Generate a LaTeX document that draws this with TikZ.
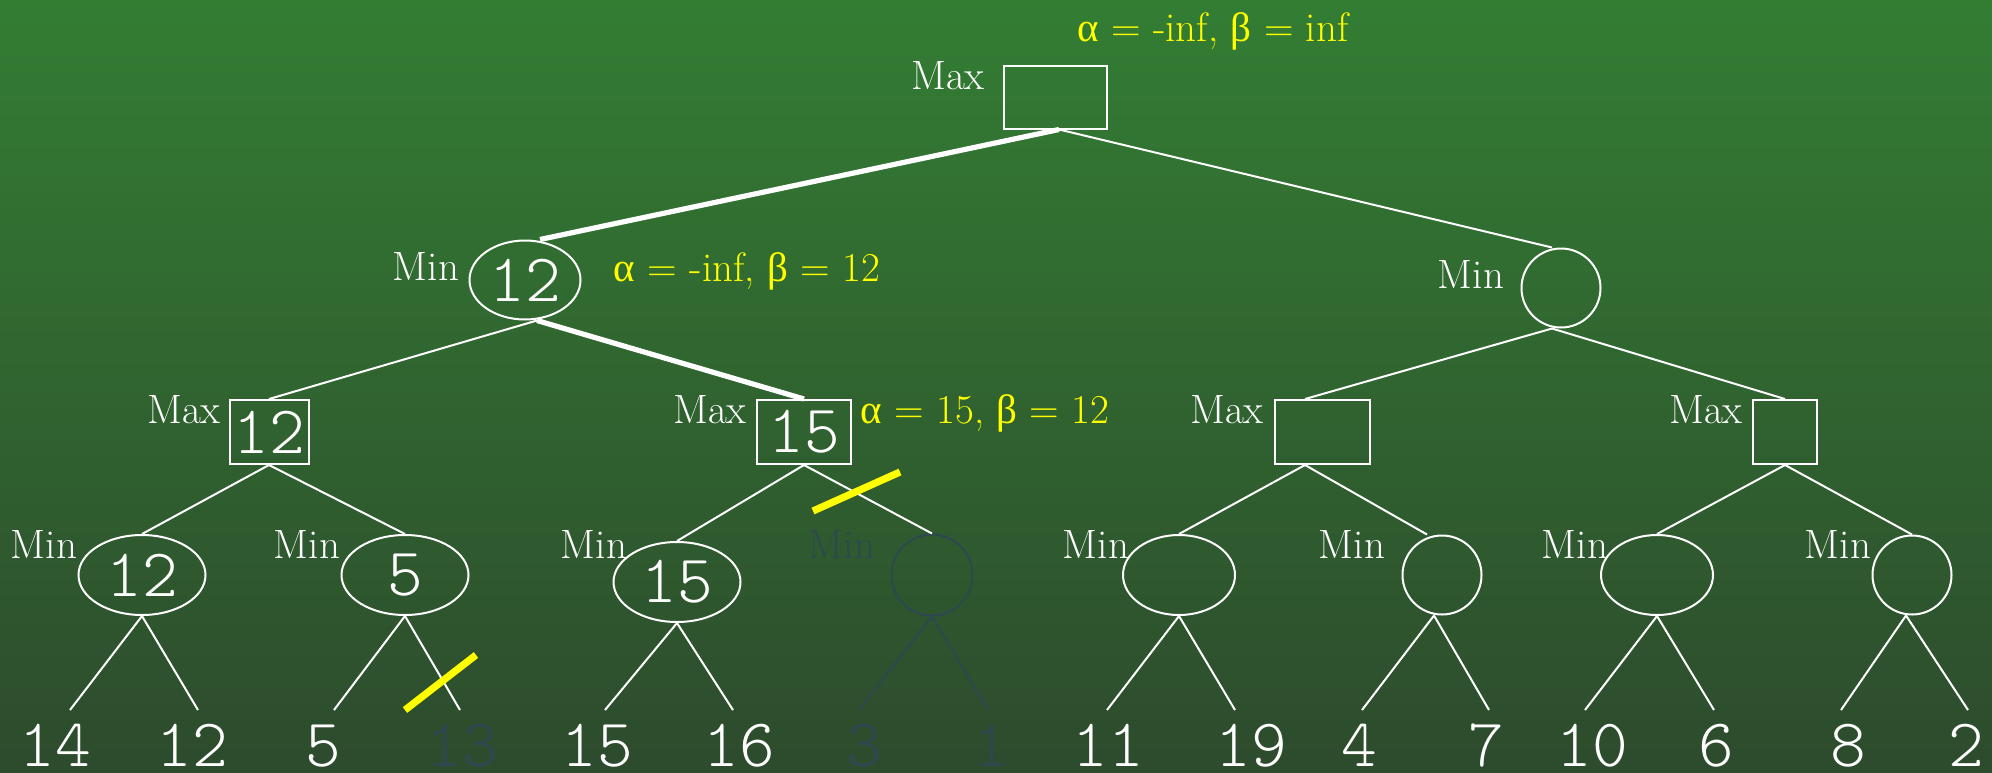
\documentclass[tikz,border=0pt]{standalone}
\usepackage{fontspec}
\newfontfamily\gk{Liberation Serif}
\newfontfamily\lmlight{lmmonolt10-regular.otf}
\usetikzlibrary{shapes.geometric}
\definecolor{bgtop}{RGB}{51,125,51}
\definecolor{bgbot}{RGB}{45,75,45}
\definecolor{dim}{RGB}{45,72,80}
\definecolor{hl}{RGB}{255,255,0}
\tikzset{
  numfont/.style={font=\fontsize{34}{34}\selectfont\lmlight},
  maxbox/.style={draw=white, line width=1pt, rectangle, inner sep=0pt, text=white, numfont},
  minell/.style={draw=white, line width=1pt, ellipse, inner sep=0pt, text=white, numfont},
  lbl/.style={text=white, font=\fontsize{20.5}{20.5}\selectfont, anchor=base, inner sep=0pt},
  ab/.style={text=hl, font=\fontsize{20.5}{20.5}\selectfont, anchor=base, inner sep=0pt},
  leaf/.style={text=white, numfont, anchor=base, inner sep=0pt},
  edgeline/.style={draw=white, line width=1pt},
  boldline/.style={draw=white, line width=2.6pt},
  cutline/.style={draw=hl, line width=3.6pt},
}
\begin{document}
\begin{tikzpicture}[x=0.5pt,y=-0.5pt]
\shade[top color=bgtop, bottom color=bgbot] (0,0) rectangle (1992,772);
\useasboundingbox (0,0) rectangle (1992,772);

% tree nodes
\node[maxbox, minimum width=51.5pt, minimum height=31.5pt] (root) at (1055,97) {};
\node[minell, minimum width=55.5pt, minimum height=39.5pt] (L) at (525,280) {12};
\node[minell, minimum width=39.5pt, minimum height=39.5pt] (R) at (1561,288) {};
\node[maxbox, minimum width=39.5pt, minimum height=32pt] (A) at (269,432) {12};
\node[maxbox, minimum width=47pt, minimum height=32pt] (B) at (804,432) {15};
\node[maxbox, minimum width=47.5pt, minimum height=32pt] (C) at (1322,432) {};
\node[maxbox, minimum width=32pt, minimum height=32pt] (D) at (1785,432) {};
\node[minell, minimum width=63.5pt, minimum height=40pt] (A1) at (142,575) {12};
\node[minell, minimum width=63.5pt, minimum height=40pt] (A2) at (405,575) {5};
\node[minell, minimum width=63.5pt, minimum height=40pt] (B1) at (677,582) {15};
\node[minell, draw=dim, minimum width=40.5pt, minimum height=40.5pt] (B2) at (932,575) {};
\node[minell, minimum width=56pt, minimum height=40pt] (C1) at (1179,575) {};
\node[minell, minimum width=39.5pt, minimum height=39.5pt] (C2) at (1442,575) {};
\node[minell, minimum width=56pt, minimum height=40pt] (D1) at (1657,575) {};
\node[minell, minimum width=39.5pt, minimum height=39.5pt] (D2) at (1912,575) {};

% labels
\node[lbl] (lroot) at (948,89) {Max};
\node[ab] (aroot) at (1213,41) {{\gk α} = -inf, {\gk β} = inf};
\node[lbl] (lL) at (426,280) {Min};
\node[ab] (aL) at (747,281) {{\gk α} = -inf, {\gk β} = 12};
\node[lbl] (lR) at (1471,288) {Min};
\node[lbl] (lA) at (184,423) {Max};
\node[lbl] (lB) at (710,423) {Max};
\node[ab] (aB) at (985,423) {{\gk α} = 15, {\gk β} = 12};
\node[lbl] (lC) at (1227,423) {Max};
\node[lbl] (lD) at (1706,423) {Max};
\node[lbl] (lA1) at (44,558) {Min};
\node[lbl] (lA2) at (307,558) {Min};
\node[lbl] (lB1) at (594,558) {Min};
\node[lbl, text=dim] (lB2) at (842,558) {Min};
\node[lbl] (lC1) at (1096,558) {Min};
\node[lbl] (lC2) at (1352,558) {Min};
\node[lbl] (lD1) at (1575,558) {Min};
\node[lbl] (lD2) at (1838,558) {Min};

% leaves
\node[leaf] (v1) at (55,766) {14};
\node[leaf] (v2) at (192,766) {12};
\node[leaf] (v3) at (323,766) {5};
\node[leaf, text=dim] (v4) at (462,766) {13};
\node[leaf] (v5) at (597,766) {15};
\node[leaf] (v6) at (739,766) {16};
\node[leaf, text=dim] (v7) at (864,766) {3};
\node[leaf, text=dim] (v8) at (991,766) {1};
\node[leaf] (v9) at (1108,766) {11};
\node[leaf] (v10) at (1251,766) {19};
\node[leaf] (v11) at (1359,766) {4};
\node[leaf] (v12) at (1486,766) {7};
\node[leaf] (v13) at (1592,766) {10};
\node[leaf] (v14) at (1716,766) {6};
\node[leaf] (v15) at (1848,766) {8};
\node[leaf] (v16) at (1966,766) {2};

% leaf line ends
\coordinate (e1) at (70,710);
\coordinate (e2) at (198,710);
\coordinate (e3) at (334,710);
\coordinate (e4) at (460,710);
\coordinate (e5) at (605,710);
\coordinate (e6) at (733,710);
\coordinate (e7) at (859,710);
\coordinate (e8) at (988,710);
\coordinate (e9) at (1107,710);
\coordinate (e10) at (1235,710);
\coordinate (e11) at (1362,710);
\coordinate (e12) at (1489,710);
\coordinate (e13) at (1585,710);
\coordinate (e14) at (1714,710);
\coordinate (e15) at (1841,710);
\coordinate (e16) at (1968,710);

% upper edges
\draw[boldline] ([xshift=2pt]root.south) -- ([xshift=7.5pt]L.north);
\draw[edgeline] ([xshift=2pt]root.south) -- ([xshift=-4.5pt]R.north);
\draw[edgeline] ([xshift=6pt]L.south) -- (A.north);
\draw[boldline] ([xshift=6pt]L.south) -- (B.north);
\draw[edgeline] ([xshift=-4.5pt]R.south) -- ([xshift=-8.5pt]C.north);
\draw[edgeline] ([xshift=-4.5pt]R.south) -- (D.north);
\draw[edgeline] (A.south) -- (A1.north);
\draw[edgeline] (A.south) -- (A2.north);
\draw[edgeline] (B.south) -- (B1.north);
\draw[edgeline] (B.south) -- (B2.north);
\draw[edgeline] ([xshift=-8.5pt]C.south) -- (C1.north);
\draw[edgeline] ([xshift=-8.5pt]C.south) -- ([xshift=-7.5pt]C2.north);
\draw[edgeline] (D.south) -- (D1.north);
\draw[edgeline] (D.south) -- (D2.north);

% leaf edges
\draw[edgeline] (A1.south) -- (e1);
\draw[edgeline] (A1.south) -- (e2);
\draw[edgeline] (A2.south) -- (e3);
\draw[edgeline] (A2.south) -- (e4);
\draw[edgeline] (B1.south) -- (e5);
\draw[edgeline] (B1.south) -- (e6);
\draw[edgeline, draw=dim] (B2.south) -- (e7);
\draw[edgeline, draw=dim] (B2.south) -- (e8);
\draw[edgeline] (C1.south) -- (e9);
\draw[edgeline] (C1.south) -- (e10);
\draw[edgeline] ([xshift=-4pt]C2.south) -- (e11);
\draw[edgeline] ([xshift=-4pt]C2.south) -- (e12);
\draw[edgeline] (D1.south) -- (e13);
\draw[edgeline] (D1.south) -- (e14);
\draw[edgeline] ([xshift=-3pt]D2.south) -- (e15);
\draw[edgeline] ([xshift=-3pt]D2.south) -- (e16);

% cut marks
\coordinate (c1a) at (405,710);
\coordinate (c1b) at (476,655);
\coordinate (c2a) at (813,511);
\coordinate (c2b) at (900,472);
\draw[cutline] (c1a) -- (c1b);
\draw[cutline] (c2a) -- (c2b);
\end{tikzpicture}
\end{document}
